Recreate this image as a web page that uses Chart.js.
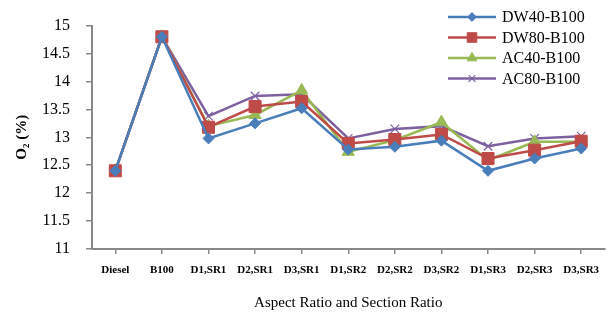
<!DOCTYPE html>
<html>
<head>
<meta charset="utf-8">
<script src="https://cdn.jsdelivr.net/npm/chart.js@4.4.0/dist/chart.umd.min.js"></script>
<style>
  html, body { margin: 0; padding: 0; background: #fff; }
  #wrap { width: 614px; height: 325px; }
</style>
</head>
<body>
<div id="wrap"><canvas id="chart" width="614" height="325"></canvas></div>
<script>
// categories and series
const categories = ['Diesel', 'B100', 'D1,SR1', 'D2,SR1', 'D3,SR1', 'D1,SR2', 'D2,SR2', 'D3,SR2', 'D1,SR3', 'D2,SR3', 'D3,SR3'];
const dw40 = [12.4, 14.8, 12.98, 13.25, 13.52, 12.78, 12.83, 12.94, 12.4, 12.62, 12.8];
const dw80 = [12.4, 14.8, 13.18, 13.55, 13.64, 12.89, 12.96, 13.05, 12.62, 12.77, 12.93];
const ac40 = [12.4, 14.8, 13.2, 13.4, 13.84, 12.74, 12.95, 13.27, 12.59, 12.92, 12.92];
const ac80 = [12.4, 14.8, 13.38, 13.74, 13.77, 12.98, 13.15, 13.2, 12.84, 12.98, 13.02];
const seriesNames = ['DW40-B100', 'DW80-B100', 'AC40-B100', 'AC80-B100'];

const SERIF = "'Liberation Serif', 'DejaVu Serif', serif";
const AXIS = '#888888';

function series(label, data, color, style, radius) {
  return {
    label: label,
    data: data,
    borderColor: color,
    backgroundColor: color,
    borderWidth: 2.5,
    pointStyle: style,
    pointRadius: radius,
    pointBorderWidth: style === 'crossRot' ? 1.2 : 1,
    pointBorderColor: color,
    pointBackgroundColor: color,
    tension: 0
  };
}

// legend drawn over the plot, top right
const floatingLegend = {
  id: 'floatingLegend',
  afterDraw(chart) {
    const ctx = chart.ctx;
    ctx.save();
    chart.data.datasets.forEach((ds, i) => {
      const y = 17 + i * 20.5;
      ctx.strokeStyle = ds.borderColor;
      ctx.lineWidth = 2.5;
      ctx.beginPath();
      ctx.moveTo(448, y);
      ctx.lineTo(496, y);
      ctx.stroke();
      ctx.fillStyle = ds.borderColor;
      ctx.lineWidth = ds.pointBorderWidth;
      Chart.helpers.drawPoint(ctx, {
        pointStyle: ds.pointStyle,
        radius: ds.pointRadius * 0.8,
        borderWidth: ds.pointBorderWidth
      }, 472, y);
      ctx.fillStyle = '#000';
      ctx.font = '16px ' + SERIF;
      ctx.textBaseline = 'middle';
      ctx.textAlign = 'left';
      ctx.fillText(ds.label, 502, y + 1);
    });
    ctx.restore();
  }
};

new Chart(document.getElementById('chart'), {
  type: 'line',
  data: {
    labels: categories,
    datasets: [
      series(seriesNames[0], dw40, '#4A7EBB', 'rectRot', 5.5),
      series(seriesNames[1], dw80, '#BE4B48', 'rect', 8.5),
      series(seriesNames[2], ac40, '#98B954', 'triangle', 7),
      series(seriesNames[3], ac80, '#7D60A0', 'crossRot', 6)
    ]
  },
  options: {
    responsive: false,
    animation: false,
    layout: { padding: { top: 25, right: 9, left: 0, bottom: 0 } },
    plugins: {
      legend: { display: false },
      tooltip: { enabled: false }
    },
    scales: {
      x: {
        offset: true,
        afterFit: (scale) => { scale.height = 76; },
        grid: { drawOnChartArea: false, drawTicks: true, tickLength: 5, color: AXIS, lineWidth: 1.5 },
        border: { display: true, color: AXIS, width: 2 },
        ticks: {
          autoSkip: false,
          maxRotation: 0,
          minRotation: 0,
          padding: 10,
          color: '#000',
          font: { family: SERIF, size: 11, weight: 'bold' }
        },
        title: {
          display: true,
          text: 'Aspect Ratio and Section Ratio',
          color: '#000',
          font: { family: SERIF, size: 15 },
          padding: { top: 0, bottom: 13 }
        }
      },
      y: {
        min: 11,
        max: 15,
        afterFit: (scale) => { scale.width = 92; },
        grid: { drawOnChartArea: false, drawTicks: true, tickLength: 6, color: AXIS, lineWidth: 1.5 },
        border: { display: true, color: AXIS, width: 2 },
        ticks: {
          stepSize: 0.5,
          padding: 16,
          color: '#000',
          font: { family: SERIF, size: 16 },
          callback: (v) => String(Number(v.toFixed(1)))
        },
        title: {
          display: true,
          text: 'O\u2082 (%)',
          color: '#000',
          font: { family: SERIF, size: 15, weight: 'bold' },
          padding: { top: 13, bottom: 0 }
        }
      }
    }
  },
  plugins: [floatingLegend]
});
</script>
</body>
</html>
